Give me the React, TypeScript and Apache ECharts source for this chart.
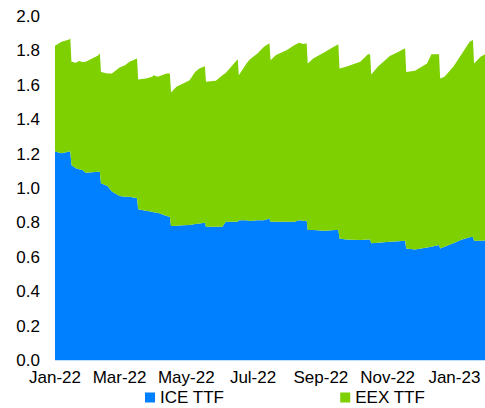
import React, { useEffect, useRef } from "react";
import * as echarts from "echarts";

const dates = [
  "2022-01-01", "2022-01-07", "2022-01-14", "2022-01-15", "2022-01-16", "2022-01-20", "2022-01-23", "2022-01-26", "2022-01-29",
  "2022-02-04", "2022-02-09", "2022-02-11", "2022-02-12", "2022-02-18", "2022-02-22",
  "2022-03-01", "2022-03-06", "2022-03-10", "2022-03-17", "2022-03-18", "2022-03-25", "2022-03-31",
  "2022-04-01", "2022-04-05", "2022-04-13", "2022-04-16", "2022-04-17", "2022-04-22", "2022-04-28",
  "2022-05-04", "2022-05-09", "2022-05-13", "2022-05-18", "2022-05-19", "2022-05-28",
  "2022-06-03", "2022-06-06", "2022-06-11", "2022-06-17", "2022-06-18", "2022-06-25", "2022-06-28",
  "2022-07-05", "2022-07-11", "2022-07-16", "2022-07-17", "2022-07-22",
  "2022-08-01", "2022-08-08", "2022-08-12", "2022-08-16", "2022-08-19", "2022-08-20", "2022-08-25",
  "2022-09-05", "2022-09-14", "2022-09-17", "2022-09-18", "2022-09-24",
  "2022-10-07", "2022-10-14", "2022-10-16", "2022-10-17", "2022-10-23",
  "2022-11-03", "2022-11-11", "2022-11-17", "2022-11-18", "2022-11-26",
  "2022-12-07", "2022-12-11", "2022-12-18", "2022-12-19", "2022-12-23", "2022-12-31",
  "2023-01-08", "2023-01-15", "2023-01-18", "2023-01-19", "2023-01-25", "2023-01-29",
];

const iceTTF = [
  1.215, 1.205, 1.215, 1.215, 1.137, 1.118, 1.112, 1.108, 1.092,
  1.094, 1.098, 1.098, 1.03, 1.015, 0.982,
  0.956, 0.952, 0.952, 0.943, 0.879, 0.871, 0.865,
  0.862, 0.859, 0.84, 0.836, 0.782, 0.784, 0.786,
  0.788, 0.794, 0.797, 0.801, 0.778, 0.778,
  0.778, 0.807, 0.807, 0.807, 0.816, 0.816, 0.811,
  0.816, 0.816, 0.826, 0.807, 0.807,
  0.807, 0.807, 0.816, 0.813, 0.813, 0.758, 0.758,
  0.754, 0.758, 0.758, 0.71, 0.704,
  0.7, 0.704, 0.704, 0.681, 0.684,
  0.69, 0.694, 0.696, 0.651, 0.646,
  0.657, 0.661, 0.671, 0.651, 0.661, 0.681,
  0.704, 0.716, 0.719, 0.696, 0.696, 0.698,
];

const eexTTF = [
  0.615, 0.648, 0.652, 0.658, 0.6, 0.613, 0.63, 0.627, 0.645,
  0.662, 0.674, 0.687, 0.648, 0.654, 0.687,
  0.748, 0.765, 0.785, 0.813, 0.755, 0.769, 0.784,
  0.797, 0.79, 0.829, 0.833, 0.776, 0.807, 0.824,
  0.842, 0.884, 0.901, 0.91, 0.842, 0.848,
  0.881, 0.865, 0.901, 0.944, 0.843, 0.911, 0.939,
  0.969, 1.008, 1.018, 0.939, 0.969,
  0.998, 1.027, 1.032, 1.027, 1.031, 0.969, 0.998,
  1.041, 1.07, 1.08, 0.988, 1.004,
  1.037, 1.077, 1.077, 0.982, 1.024,
  1.08, 1.101, 1.119, 1.027, 1.038,
  1.07, 1.12, 1.11, 0.989, 0.988, 1.027,
  1.081, 1.137, 1.144, 1.031, 1.07, 1.083,
];

const tickDates = ["2022-01-01", "2022-03-01", "2022-05-01", "2022-07-01", "2022-09-01", "2022-11-01", "2023-01-01"];
const tickLabels = ["Jan-22", "Mar-22", "May-22", "Jul-22", "Sep-22", "Nov-22", "Jan-23"];
const axisStart = "2022-01-01";
const axisEnd = "2023-01-29";

const FONT = 'Arial, "Liberation Sans", sans-serif';

const toTime = (s: string) => echarts.number.parseDate(s).getTime();

export default function App() {
  const ref = useRef<HTMLDivElement>(null);

  useEffect(() => {
    if (!ref.current) return;
    const chart = echarts.init(ref.current, null, { renderer: "svg" });
    const tickTimes = tickDates.map(toTime);
    const minT = toTime(axisStart);
    const maxT = toTime(axisEnd);

    chart.setOption({
      animation: false,
      textStyle: { fontFamily: FONT },
      grid: { left: 55, right: 0, top: 16.5, bottom: 47.5, outerBoundsMode: "none" },
      legend: {
        data: ["ICE TTF", "EEX TTF"],
        left: 140,
        top: 384,
        icon: "rect",
        itemWidth: 10,
        itemHeight: 10,
        itemGap: 116,
        textStyle: { fontSize: 17, color: "#000", fontFamily: FONT },
      },
      xAxis: [
        {
          type: "time",
          min: minT,
          max: maxT,
          axisLine: { show: false },
          axisTick: { show: false },
          splitLine: { show: false },
          axisLabel: { show: false },
        },
        {
          type: "value",
          position: "bottom",
          min: minT,
          max: maxT,
          axisLine: { show: false },
          axisTick: { show: false },
          splitLine: { show: false },
          axisLabel: {
            customValues: tickTimes,
            hideOverlap: false,
            fontSize: 17,
            color: "#000",
            fontFamily: FONT,
            margin: 8,
            formatter: (v: number) => {
              let best = 0;
              tickTimes.forEach((t, i) => {
                if (Math.abs(t - v) < Math.abs(tickTimes[best] - v)) best = i;
              });
              return tickLabels[best];
            },
          },
        },
      ],
      yAxis: {
        type: "value",
        min: 0,
        max: 2,
        interval: 0.2,
        axisLine: { show: false },
        axisTick: { show: false },
        splitLine: { show: false },
        axisLabel: {
          fontSize: 17,
          color: "#000",
          fontFamily: FONT,
          margin: 15,
          formatter: (v: number) => v.toFixed(1),
        },
      },
      series: [
        {
          name: "ICE TTF",
          type: "line",
          xAxisIndex: 0,
          stack: "total",
          data: dates.map((d, i) => [d, iceTTF[i]]),
          showSymbol: false,
          symbol: "none",
          lineStyle: { width: 0 },
          itemStyle: { color: "#0080ff" },
          areaStyle: { color: "#0080ff", opacity: 1 },
        },
        {
          name: "EEX TTF",
          type: "line",
          xAxisIndex: 0,
          stack: "total",
          data: dates.map((d, i) => [d, eexTTF[i]]),
          showSymbol: false,
          symbol: "none",
          lineStyle: { width: 0 },
          itemStyle: { color: "#7ed000" },
          areaStyle: { color: "#7ed000", opacity: 1 },
        },
      ],
    });

    return () => chart.dispose();
  }, []);

  return (
    <div style={{ position: "fixed", left: 0, top: 0, width: 485, height: 408, background: "#fff" }}>
      <div ref={ref} style={{ width: 485, height: 408 }} />
    </div>
  );
}
